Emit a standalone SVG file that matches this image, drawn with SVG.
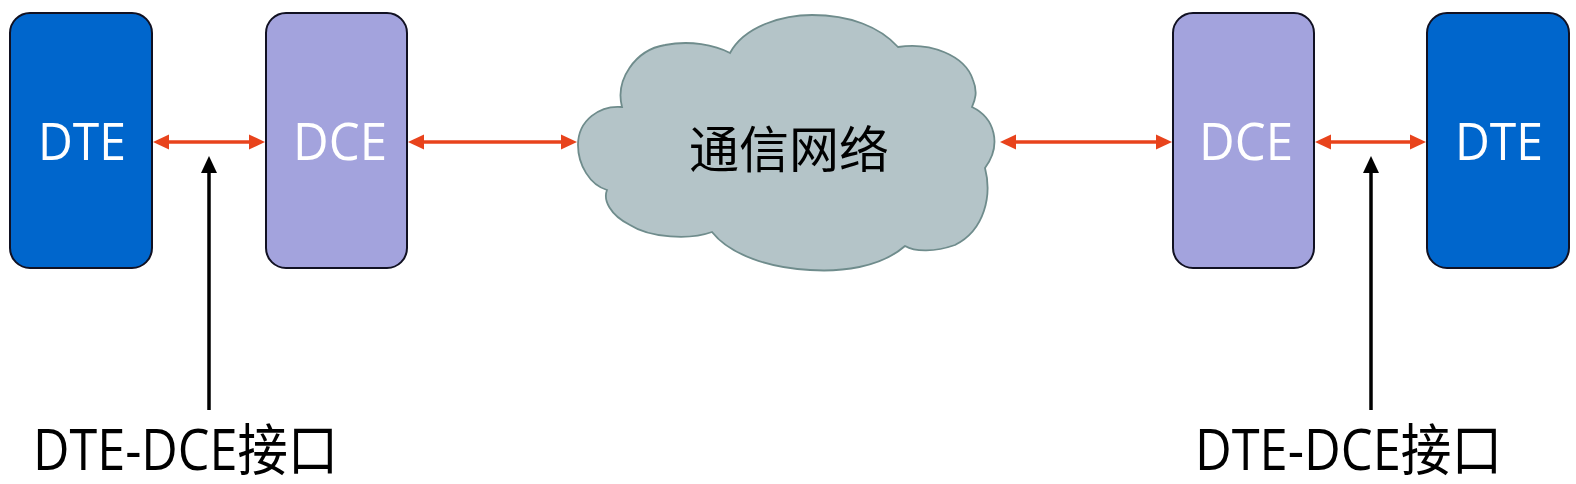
<svg xmlns="http://www.w3.org/2000/svg" width="1576" height="484" viewBox="0 0 1576 484">
<style>
.dte{fill:#0066cc;stroke:#111122;stroke-width:2}
.dce{fill:#a3a3dd;stroke:#111122;stroke-width:2}
.bt{font-family:"Open Sans","Noto Sans",sans-serif;font-size:52px;fill:#ffffff;text-anchor:middle}
.lbl{font-family:"Open Sans","Noto Sans CJK SC",sans-serif;font-size:56px;fill:#000000}
.ct{font-family:"Noto Sans CJK SC",sans-serif;font-size:50px;fill:#000000;text-anchor:middle}
.red{stroke:#e8431c;stroke-width:3.5;fill:none}
.rh{fill:#e8431c}
.blk{stroke:#000000;stroke-width:3.5;fill:none}
.bh{fill:#000000}
</style>
<defs>
<path id="rhead" d="M0,0 L-16,-7.5 L-16,7.5 Z"/>
<path id="bhead" d="M0,0 L-8,17 L8,17 Z"/>
</defs>
<rect width="1576" height="484" fill="#ffffff"/>
<g id="connectors">
<line class="red" x1="165" y1="142" x2="252" y2="142"/>
<use href="#rhead" class="rh" transform="translate(153,142) rotate(180)"/>
<use href="#rhead" class="rh" transform="translate(265,142)"/>
<line class="red" x1="420" y1="142" x2="564" y2="142"/>
<use href="#rhead" class="rh" transform="translate(408,142) rotate(180)"/>
<use href="#rhead" class="rh" transform="translate(577,142)"/>
<line class="red" x1="1012" y1="142" x2="1160" y2="142"/>
<use href="#rhead" class="rh" transform="translate(1000,142) rotate(180)"/>
<use href="#rhead" class="rh" transform="translate(1172,142)"/>
<line class="red" x1="1327" y1="142" x2="1414" y2="142"/>
<use href="#rhead" class="rh" transform="translate(1315,142) rotate(180)"/>
<use href="#rhead" class="rh" transform="translate(1426,142)"/>
<line class="blk" x1="209" y1="410" x2="209" y2="170"/>
<use href="#bhead" class="bh" transform="translate(209,156)"/>
<line class="blk" x1="1371" y1="410" x2="1371" y2="170"/>
<use href="#bhead" class="bh" transform="translate(1371,156)"/>
</g>
<g id="dte-left"><rect class="dte" x="10" y="13" width="142" height="255" rx="20"/><text class="bt" x="82" y="160" textLength="88" lengthAdjust="spacingAndGlyphs">DTE</text></g>
<g id="dce-left"><rect class="dce" x="266" y="13" width="141" height="255" rx="20"/><text class="bt" x="340" y="160" textLength="94" lengthAdjust="spacingAndGlyphs">DCE</text></g>
<g id="cloud">
<path d="M607,190 C590,185 578,165 578,145 C578,120 600,105 622,107 C615,80 635,50 665,45 C690,40 715,45 730,53 C745,25 785,15 812,15 C850,15 880,27 898,47 C930,42 965,55 973,80 C978,92 975,100 972,107 C995,118 1002,145 985,168 C992,195 985,230 955,245 C935,252 915,252 905,246 C880,268 840,272 810,270 C770,268 730,255 712,232 C690,240 650,238 630,225 C610,215 603,200 607,190 Z" fill="#b4c4c8" stroke="#6f8c8c" stroke-width="1.8"/>
<text class="ct" x="789" y="168">通信网络</text>
</g>
<g id="dce-right"><rect class="dce" x="1173" y="13" width="141" height="255" rx="20"/><text class="bt" x="1246" y="160" textLength="94" lengthAdjust="spacingAndGlyphs">DCE</text></g>
<g id="dte-right"><rect class="dte" x="1427" y="13" width="142" height="255" rx="20"/><text class="bt" x="1499" y="160" textLength="88" lengthAdjust="spacingAndGlyphs">DTE</text></g>
<g id="label-left"><text class="lbl" x="33" y="470" textLength="305" lengthAdjust="spacingAndGlyphs">DTE-DCE接口</text></g>
<g id="label-right"><text class="lbl" x="1195" y="470" textLength="307" lengthAdjust="spacingAndGlyphs">DTE-DCE接口</text></g>
</svg>
